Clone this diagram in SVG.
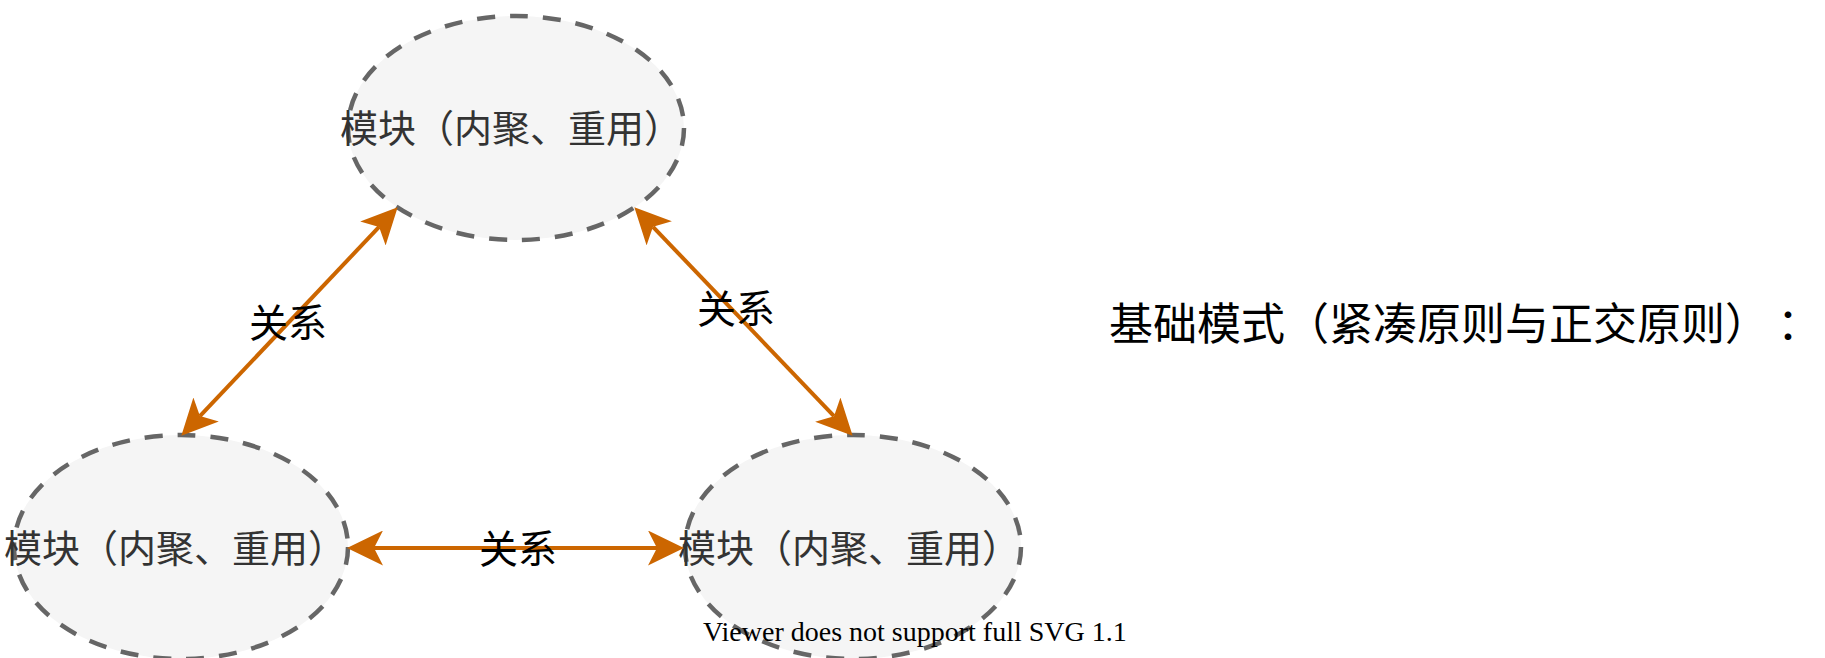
<svg xmlns="http://www.w3.org/2000/svg" width="1825" height="658" viewBox="0 0 1825 658">
<style>
.node ellipse{fill:#f5f5f5;stroke:#666666;stroke-width:4.5;stroke-dasharray:18 15}
.node text{font-family:"Noto Sans CJK SC",sans-serif;font-size:38px;fill:#333333}
.edge line{stroke:#cc6600;stroke-width:4}
.lbl{font-family:"Noto Sans CJK SC",sans-serif;font-size:39px;fill:#000000}
.title{font-family:"Noto Sans CJK SC",sans-serif;font-size:44px;fill:#000000}
.warn{font-family:"Liberation Serif",serif;font-size:28px;fill:#000000}
</style>
<defs>
<marker id="arr" viewBox="0 0 36 35" refX="9" refY="17.5" markerWidth="36" markerHeight="35" markerUnits="userSpaceOnUse" orient="auto-start-reverse">
<path d="M36,17.5 L0,0 L9,17.5 L0,35 Z" fill="#cc6600"/>
</marker>
</defs>
<g id="node-top" class="node">
<ellipse cx="516" cy="128" rx="168" ry="112"/>
<text x="340" y="142">模块（内聚、重用）</text>
</g>
<g id="node-left" class="node">
<ellipse cx="181" cy="547" rx="167" ry="112"/>
<text x="4" y="562">模块（内聚、重用）</text>
</g>
<g id="node-right" class="node">
<ellipse cx="853" cy="547" rx="168" ry="112"/>
<text x="678" y="562">模块（内聚、重用）</text>
</g>
<g id="connectors" class="edge">
<line x1="379.1" y1="226.9" x2="199.9" y2="416.1" marker-start="url(#arr)" marker-end="url(#arr)"/>
<line x1="653" y1="226.8" x2="834" y2="416.2" marker-start="url(#arr)" marker-end="url(#arr)"/>
<line x1="374" y1="548" x2="657" y2="548" marker-start="url(#arr)" marker-end="url(#arr)"/>
<text class="lbl" x="249" y="337">关系</text>
<text class="lbl" x="697" y="323">关系</text>
<text class="lbl" x="479" y="563">关系</text>
</g>
<text class="title" x="1109" y="340">基础模式（紧凑原则与正交原则）<tspan dx="30">：</tspan></text>
<text class="warn" x="703" y="641">Viewer does not support full SVG 1.1</text>
</svg>
